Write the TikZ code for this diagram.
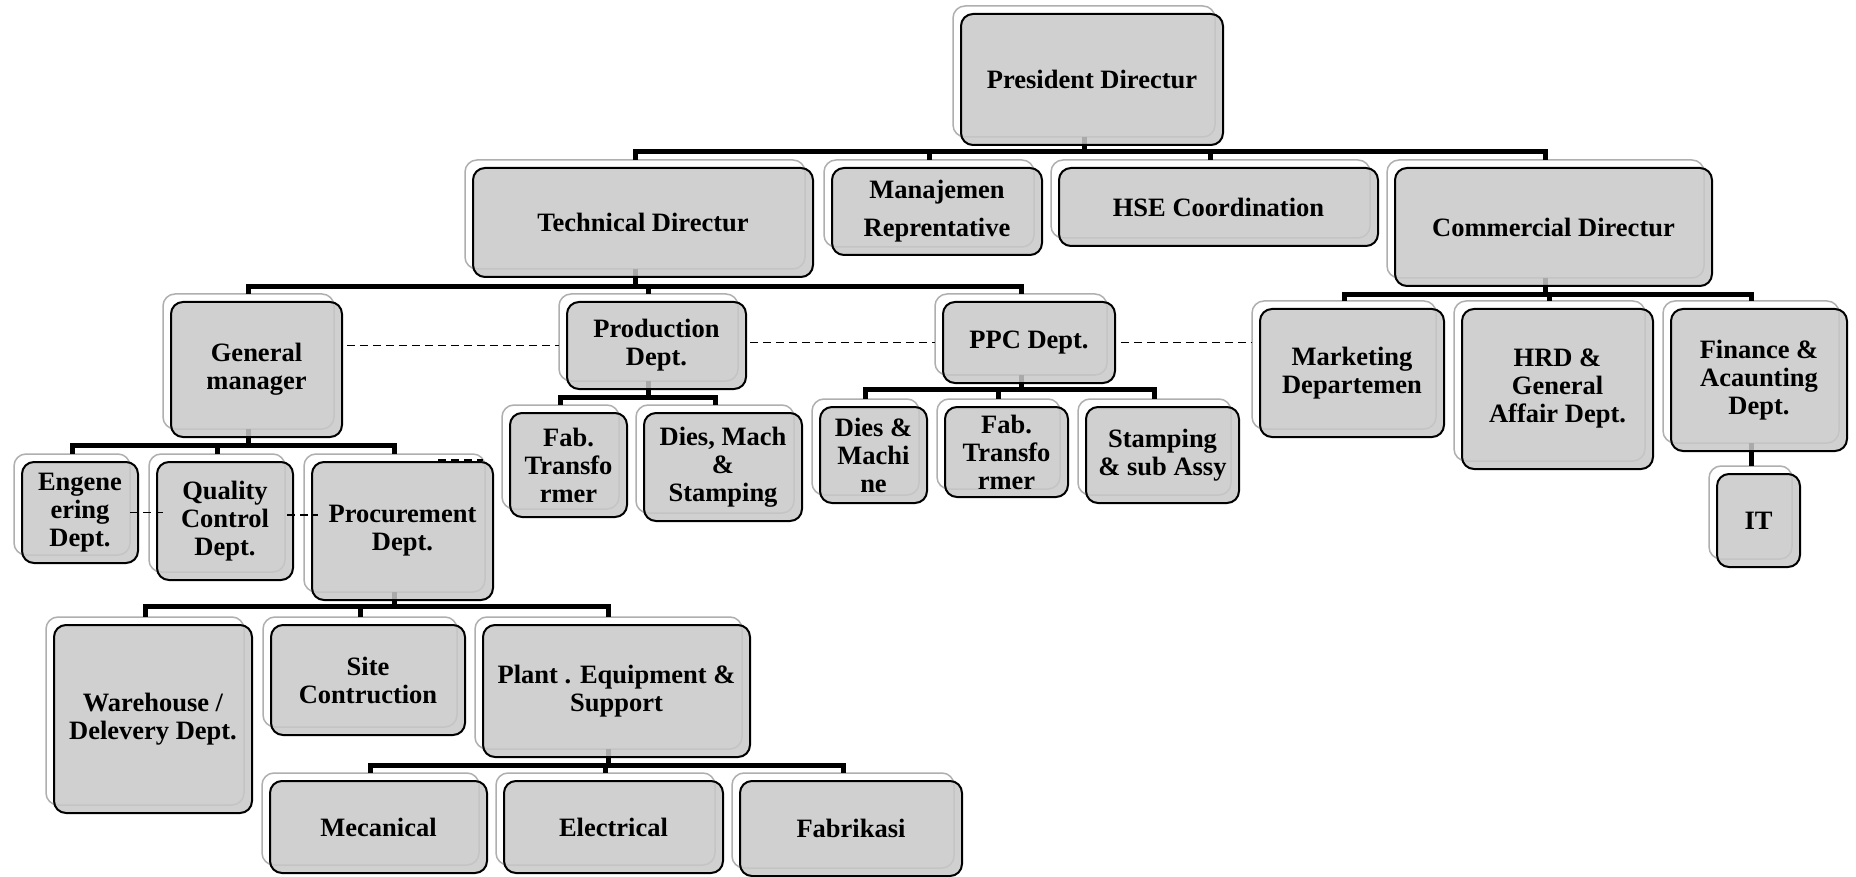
\documentclass[tikz,border=0pt]{standalone}
\usepackage{fontspec}
\setmainfont{Liberation Serif}
\usepackage{tikz}
\usetikzlibrary{positioning,calc}
\definecolor{boxgray}{RGB}{200,200,200}
\definecolor{shadowgray}{RGB}{175,175,175}
\tikzstyle{backbox}=[draw=shadowgray, line width=1.5pt, fill=white, rounded corners=12pt, inner sep=0pt, outer sep=0pt]
\tikzstyle{frontbox}=[draw=black, line width=2pt, fill=boxgray, fill opacity=0.85, draw opacity=1, text opacity=1, rounded corners=12pt, align=center, inner sep=4pt, outer sep=0pt, font=\fontsize{26.5}{28}\selectfont\bfseries]
\tikzstyle{conn}=[line width=5pt, black]
\tikzstyle{dashline}=[line width=1.8pt, black, dash pattern=on 8pt off 5pt]

\pgfdeclarelayer{bg}
\pgfsetlayers{bg,main}

\begin{document}
\begin{tikzpicture}[x=1pt,y=-1pt]
    % #1 extra style, #2 name, #3-#6 corners of the front box, #7 text
    \def\orgbox#1#2#3#4#5#6#7{
      \begin{pgfonlayer}{bg}
        \node[backbox,minimum width={#5-#3},minimum height={#6-#4}] (#2b) at ({(#3+#5)/2-8},{(#4+#6)/2-8}) {};
      \end{pgfonlayer}
      \node[frontbox,minimum width={#5-#3},minimum height={#6-#4},#1] (#2) at ({(#3+#5)/2},{(#4+#6)/2}) {#7};
    }

    \useasboundingbox (0,0) rectangle (1856,877);
    \begin{pgfonlayer}{bg}
      \fill[white] (0,0) rectangle (1856,877);
    \end{pgfonlayer}

    % TOP
    \orgbox{}{pres}{961}{14}{1223}{145}{President Directur}
    \orgbox{}{tech}{473}{168}{813}{277}{Technical Directur}
    \orgbox{font=\fontsize{26.5}{38}\selectfont\bfseries}{man}{832}{168}{1042}{255}{Manajemen\\Reprentative}
    \orgbox{}{hse}{1059}{168}{1378}{246}{HSE Coordination}
    \orgbox{}{comm}{1395}{168}{1712}{286}{Commercial Directur}

    % TECHNICAL
    \orgbox{}{gm}{171}{302}{342}{437}{General\\manager}
    \orgbox{}{prod}{567}{302}{746}{389}{Production\\Dept.}
    \orgbox{}{ppc}{943}{302}{1115}{383}{PPC Dept.}

    \orgbox{}{eng}{22}{462}{138}{563}{Engene\\ering\\Dept.}
    \orgbox{}{qc}{157}{462}{293}{580}{Quality\\Control\\Dept.}
    \orgbox{}{proc}{312}{462}{493}{600}{Procurement\\Dept.}

    \orgbox{}{fabp}{510}{413}{627}{517}{Fab.\\Transfo\\rmer}
    \orgbox{}{dies}{644}{413}{802}{521}{Dies, Mach\\\&\\Stamping}

    \orgbox{}{diesm}{820}{407}{927}{503}{Dies \&\\Machi\\ne}
    \orgbox{}{fabc}{945}{407}{1068}{497}{Fab.\\Transfo\\rmer}
    \orgbox{}{stamp}{1086}{407}{1239}{503}{Stamping\\\& sub Assy}

    \orgbox{}{ware}{54}{625}{252}{813}{Warehouse /\\Delevery Dept.}
    \orgbox{}{site}{271}{625}{465}{735}{Site\\Contruction}
    \orgbox{}{plant}{483}{625}{750}{757}{Plant . Equipment \&\\Support}

    \orgbox{}{mec}{270}{781}{487}{873}{Mecanical}
    \orgbox{}{elec}{504}{781}{723}{873}{Electrical}
    \orgbox{}{fabr}{740}{781}{962}{876}{Fabrikasi}

    % COMMERCIAL
    \orgbox{}{mkt}{1260}{309}{1444}{437}{Marketing\\Departemen}
    \orgbox{}{hrd}{1462}{309}{1653}{469}{HRD \&\\General\\Affair Dept.}
    \orgbox{}{fin}{1671}{309}{1847}{451}{Finance \&\\Acaunting\\Dept.}
    \orgbox{}{it}{1717}{474}{1800}{567}{IT}

    % CONNECTORS
    \begin{pgfonlayer}{bg}
      \foreach \c in {techb,manb,hseb,commb}
        \draw[conn] (presb.south) -- ++(0,15) -| (\c.north);
      \foreach \c in {gmb,prodb,ppcb}
        \draw[conn] (techb.south) -- ++(0,18) -| (\c.north);
      \foreach \c in {engb,qcb,procb}
        \draw[conn] (gmb.south) -- ++(0,16) -| (\c.north);
      \foreach \c in {fabpb,diesb}
        \draw[conn] (prodb.south) -- ++(0,16) -| (\c.north);
      \foreach \c in {diesmb,fabcb,stampb}
        \draw[conn] (ppcb.south) -- ++(0,14) -| (\c.north);
      \foreach \c in {wareb,siteb,plantb}
        \draw[conn] (procb.south) -- ++(0,14) -| (\c.north);
      \foreach \c in {mecb,elecb,fabrb}
        \draw[conn] (plantb.south) -- ++(0,16) -| (\c.north);
      \foreach \c in {mktb,hrdb,finb}
        \draw[conn] (commb.south) -- ++(0,17) -| (\c.north);
      \draw[conn] (finb.south) -- (finb.south |- itb.north);
    \end{pgfonlayer}

    % DASHED LINES
    \draw[dashline] ([xshift=5pt]gm.east |- prod.east) -- (prodb.west |- prod.east);
    \draw[dashline] ([xshift=4pt]prod.east |- ppc.west) -- (ppcb.west |- ppc.west);
    \draw[dashline] ([xshift=6pt]ppc.east) -- (mktb.west |- ppc.east);
    \draw[dashline] ([xshift=-8pt]eng.east) -- ([xshift=6pt]qc.west |- eng.east);
    \draw[dashline] ([xshift=-6pt,yshift=6pt]qc.east) -- ([xshift=6pt,yshift=6pt]proc.west |- qc.east);
    \draw[dashline] ([xshift=-55pt,yshift=2pt]proc.north east) -- ([xshift=-10pt,yshift=2pt]proc.north east);
\end{tikzpicture}
\end{document}
